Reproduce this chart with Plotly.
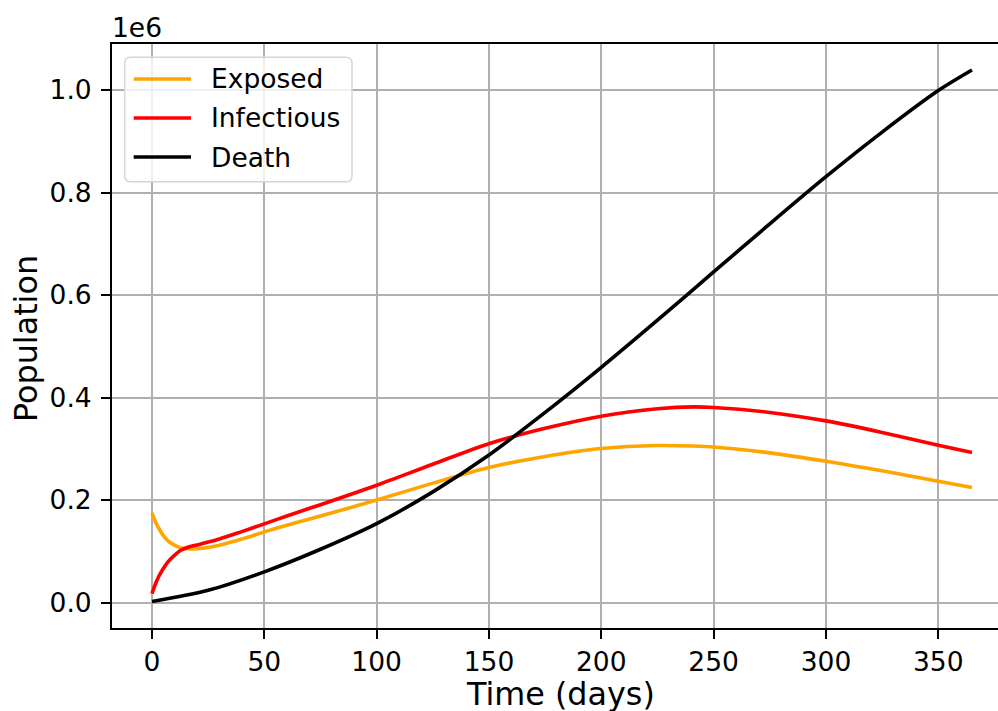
import plotly.graph_objects as go

# ---- data ----
days_ei = [0, 1, 2, 3, 5, 7, 10, 13, 16, 20, 25, 30, 40, 50, 60, 75, 100, 125, 150, 175,
           200, 225, 241, 250, 275, 300, 325, 350, 365]
exposed = [175000, 163000, 153000, 145000, 131000, 121000, 112000, 106500, 105000, 105000,
           107500, 112000, 124000, 138000, 151000, 169000, 200000, 233000, 263500, 285000,
           300600, 306500, 305500, 303700, 292000, 275800, 257000, 236800, 224500]
infectious = [17600, 30000, 41000, 51000, 66000, 79000, 92000, 102500, 108000, 112500,
              118000, 124000, 138500, 153500, 169000, 191000, 229000, 270000, 310000, 340000,
              363700, 378000, 381800, 380600, 371000, 354500, 332000, 307000, 292800]
days_d = [0, 25, 50, 75, 100, 125, 150, 175, 200, 225, 250, 275, 300, 325, 350, 365]
death = [2000, 24000, 60000, 104000, 154000, 216000, 288000, 371000,
         459000, 551000, 645000, 739000, 831000, 918000, 999000, 1039000]

x_ticks = [0, 50, 100, 150, 200, 250, 300, 350]
y_ticks = [0, 200000, 400000, 600000, 800000, 1000000]
y_tick_labels = ["0.0", "0.2", "0.4", "0.6", "0.8", "1.0"]

series_names = ["Exposed", "Infectious", "Death"]
series_colors = ["#FFA500", "#FF0000", "#000000"]

FONT = "DejaVu Sans"
TICK_SIZE = 26.5
LABEL_SIZE = 31.8
W, H = 998, 711
ML, MR, MT, MB = 112, 0, 44, 83
PW, PH = W - ML - MR, H - MT - MB


def px(x):
    return (x - ML) / PW


def py(y):
    return (H - MB - y) / PH


fig = go.Figure()
for name, xs, ys, col in [("Exposed", days_ei, exposed, series_colors[0]),
                          ("Infectious", days_ei, infectious, series_colors[1]),
                          ("Death", days_d, death, series_colors[2])]:
    fig.add_trace(go.Scatter(x=xs, y=ys, mode="lines", name=name,
                             line=dict(color=col, width=3.6, shape="spline", smoothing=0.8),
                             showlegend=False))

axis_common = dict(showgrid=True, gridcolor="#b0b0b0", gridwidth=2, zeroline=False,
                   showline=True, linecolor="black", linewidth=2,
                   ticks="outside", ticklen=9, tickwidth=2, tickcolor="black",
                   tickfont=dict(family=FONT, size=TICK_SIZE, color="#000000"))

fig.update_xaxes(range=[-17.8, -17.8 + PW / 2.2466], tickvals=x_ticks, mirror=True,
                 **axis_common)
fig.update_yaxes(range=[-49600, 1089800], tickvals=y_ticks, ticktext=y_tick_labels,
                 mirror=False, ticklabelstandoff=4, **axis_common)

# custom legend (matplotlib-like)
lx0, lx1, ly0, ly1, r = 124.7, 352, 57.3, 181.7, 6
path = (f"M {px(lx0 + r)},{py(ly0)} L {px(lx1 - r)},{py(ly0)} "
        f"Q {px(lx1)},{py(ly0)} {px(lx1)},{py(ly0 + r)} "
        f"L {px(lx1)},{py(ly1 - r)} Q {px(lx1)},{py(ly1)} {px(lx1 - r)},{py(ly1)} "
        f"L {px(lx0 + r)},{py(ly1)} Q {px(lx0)},{py(ly1)} {px(lx0)},{py(ly1 - r)} "
        f"L {px(lx0)},{py(ly0 + r)} Q {px(lx0)},{py(ly0)} {px(lx0 + r)},{py(ly0)} Z")
shapes = [dict(type="path", path=path, xref="paper", yref="paper",
               fillcolor="rgba(255,255,255,0.8)", line=dict(color="#d6d6d6", width=1.5),
               layer="above")]
annotations = []
for i, (name, col) in enumerate(zip(series_names, series_colors)):
    yy = 79 + i * 39
    shapes.append(dict(type="line", xref="paper", yref="paper", x0=px(133.7), x1=px(191),
                       y0=py(yy), y1=py(yy), line=dict(color=col, width=3.6), layer="above"))
    annotations.append(dict(text=name, xref="paper", yref="paper", x=px(209), y=py(yy),
                            xanchor="left", yanchor="middle", showarrow=False,
                            font=dict(family=FONT, size=TICK_SIZE, color="#000000")))

annotations += [
    dict(text="1e6", xref="paper", yref="paper", x=px(110), y=py(28), xanchor="left",
         yanchor="middle", showarrow=False,
         font=dict(family=FONT, size=TICK_SIZE, color="#000000")),
    dict(text="Time (days)", xref="paper", yref="paper", x=px(560), y=py(693),
         xanchor="center", yanchor="middle", showarrow=False,
         font=dict(family=FONT, size=LABEL_SIZE, color="#000000")),
    dict(text="Population", xref="paper", yref="paper", x=px(25), y=py(339),
         xanchor="center", yanchor="middle", textangle=-90, showarrow=False,
         font=dict(family=FONT, size=LABEL_SIZE, color="#000000")),
]

fig.update_layout(width=W, height=H, margin=dict(l=ML, r=MR, t=MT, b=MB, pad=0),
                  paper_bgcolor="white", plot_bgcolor="white",
                  shapes=shapes, annotations=annotations, showlegend=False,
                  font=dict(family=FONT))

fig.write_html("out.html")
